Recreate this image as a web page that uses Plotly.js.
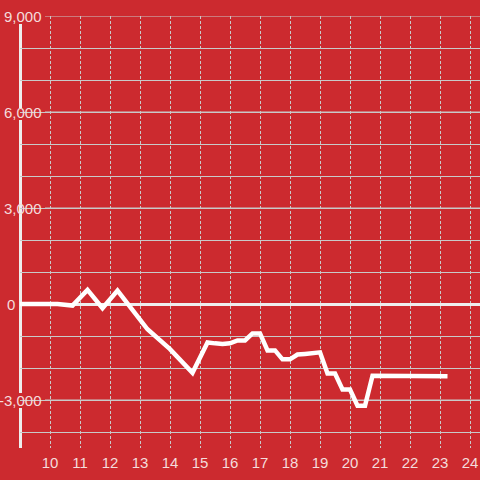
<!DOCTYPE html>
<html>
<head>
<meta charset="utf-8">
<script src="https://cdn.plot.ly/plotly-3.0.1.min.js"></script>
<style>html,body{margin:0;padding:0;background:#cc2a2f;}#chart{width:480px;height:480px;}</style>
</head>
<body>
<div id="chart"></div>
<script>
// Data
const xValues = [9, 10.25, 10.75, 11.25, 11.75, 12.25, 13.25, 14.0, 14.75, 15.25, 15.5, 15.75, 16.0, 16.25, 16.5, 16.75, 17.0, 17.25, 17.5, 17.75, 18.0, 18.25, 18.5, 18.75, 19.0, 19.25, 19.5, 19.75, 20.0, 20.25, 20.5, 20.75, 21.0, 22.0, 23.25];
const yValues = [0, 0, -50, 440, -130, 420, -790, -1410, -2150, -1200, -1230, -1250, -1230, -1140, -1140, -920, -920, -1450, -1450, -1730, -1730, -1580, -1560, -1540, -1510, -2170, -2170, -2670, -2670, -3180, -3180, -2240, -2240, -2250, -2260];
const yTickValues = [9000, 6000, 3000, 0, -3000];
const yTickLabels = ["9,000", "6,000", "3,000", "0", "-3,000"];
const xTickValues = [10, 11, 12, 13, 14, 15, 16, 17, 18, 19, 20, 21, 22, 23, 24];

const BG = '#cc2a2f';
const GRID = '#c9c9c9';
const AXIS = '#eeeeee';
const TEXT = '#f4dcdc';
const plotLeft = 20, plotWidth = 460;
const px = p => (p - plotLeft) / plotWidth;

const shapes = [];
// major gridlines (start right of labels)
yTickValues.forEach(v => {
  if (v === 0) return;
  shapes.push({type: 'line', xref: 'paper', yref: 'y', x0: px(45), x1: 1, y0: v, y1: v,
    line: {color: GRID, width: 1}, layer: 'below'});
});
// y axis line with gaps behind labels
[[8750, 6125], [5750, -2780], [-3250, -4500]].forEach(seg => {
  shapes.push({type: 'line', xref: 'paper', yref: 'y', x0: px(20.5), x1: px(20.5), y0: seg[0], y1: seg[1],
    line: {color: AXIS, width: 3}, layer: 'below'});
});

const annotations = yTickValues.map((v, i) => ({
  xref: 'paper', yref: 'y', x: yTickLabels[i] === '0' ? px(17) : px(44), y: v,
  xanchor: 'right', yanchor: 'middle', showarrow: false,
  text: yTickLabels[i], font: {family: 'Liberation Sans, Arial, sans-serif', size: 15, color: TEXT}
}));

const trace = {
  x: xValues, y: yValues, type: 'scatter', mode: 'lines',
  line: {color: '#ffffff', width: 4.5}, hoverinfo: 'skip'
};

const layout = {
  width: 480, height: 480,
  paper_bgcolor: BG, plot_bgcolor: BG,
  margin: {l: 20, r: 0, t: 16, b: 32, pad: 0},
  showlegend: false,
  xaxis: {
    range: [9, 24.333], tickvals: xTickValues, ticktext: xTickValues.map(String),
    showgrid: true, gridcolor: GRID, gridwidth: 1, griddash: '3px,2px',
    zeroline: false, showline: false, ticks: '', ticklabelstandoff: 4,
    tickfont: {family: 'Liberation Sans, Arial, sans-serif', size: 15, color: TEXT}
  },
  yaxis: {
    range: [-4500, 9000], tickvals: yTickValues, showticklabels: false,
    showgrid: false, zeroline: true, zerolinecolor: AXIS, zerolinewidth: 3,
    showline: false, ticks: '',
    minor: {dtick: 1000, tick0: 0, showgrid: true, gridcolor: GRID, gridwidth: 1, ticks: ''}
  },
  shapes: shapes,
  annotations: annotations
};

Plotly.newPlot('chart', [trace], layout, {staticPlot: true, displayModeBar: false});
</script>
</body>
</html>
